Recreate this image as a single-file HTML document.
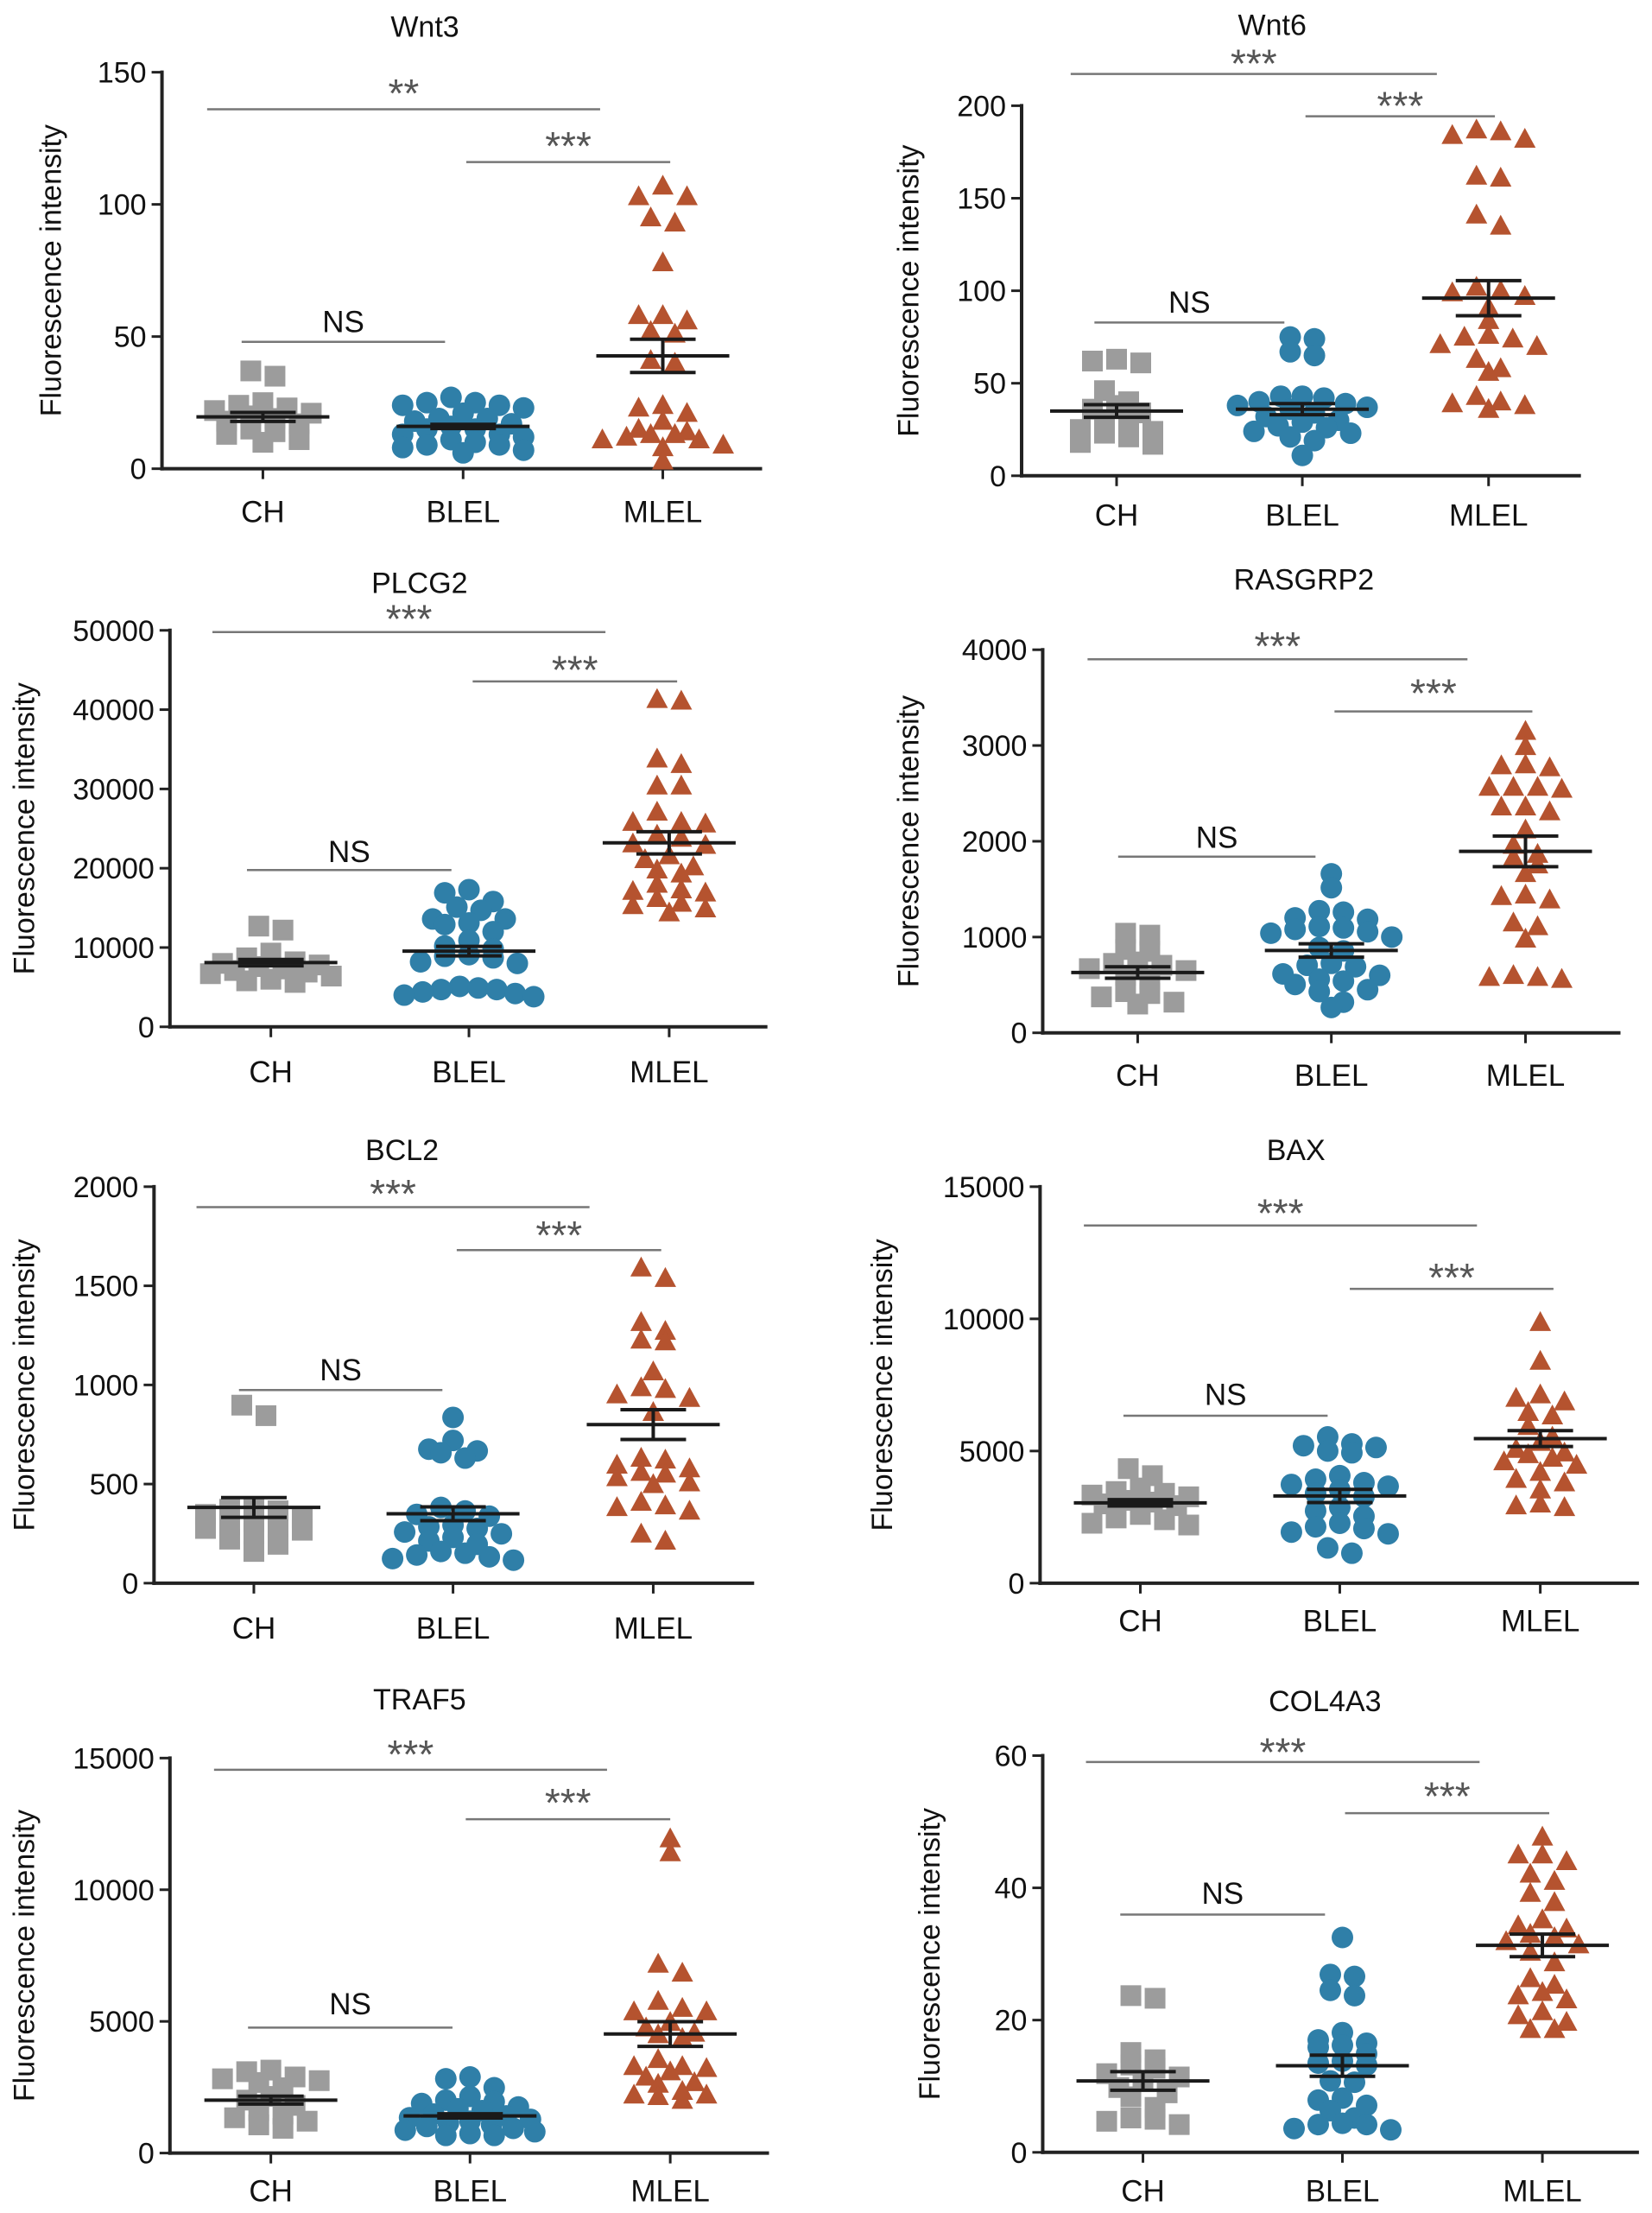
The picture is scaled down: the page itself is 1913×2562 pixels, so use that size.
<!DOCTYPE html>
<html><head><meta charset="utf-8">
<style>
html,body{margin:0;padding:0;background:#fff;}
svg{display:block;font-family:"Liberation Sans",Arial,sans-serif;}
</style></head>
<body>
<svg id="fig" xmlns="http://www.w3.org/2000/svg" width="1913" height="2562" viewBox="0 0 1913 2562"></svg>
<script>
// ---------- DATA ----------
const groups = ["CH","BLEL","MLEL"];
const titles = ["Wnt3","Wnt6","PLCG2","RASGRP2","BCL2","BAX","TRAF5","COL4A3"];
const sigTop = ["**","***","***","***","***","***","***","***"];
const sigRight = ["***","***","***","***","***","***","***","***"];
const sigLeft = ["NS","NS","NS","NS","NS","NS","NS","NS"];
const yMax = [150,200,50000,4000,2000,15000,15000,60];
const yStep = [50,50,10000,1000,500,5000,5000,20];

const wnt3CH = [37,35,25,24,23,22,21,20,19,18,17,15,14,13,11,10];
const wnt3BLEL = [27,25,25,24,24,23,21,19,19,18,17,16,15,15,13,13,12,11,10,9,9,8,7,6];
const wnt3MLEL = [107,103,103,95,93,78,58,58,56,52,51,41,40,24,23,21,18,15,14,13,13,12,11,11,9,8,3];
const wnt3Mean = [19.6,16,42.7];
const wnt3Sem = [1.7,0.8,6.3];

const wnt6CH = [63,62,61,46,40,38,36,34,30,29,25,24,23,21,18,17];
const wnt6BLEL = [75,74,67,65,43,43,42,40,39,38,37,36,34,32,30,29,27,26,24,23,21,19,11];
const wnt6MLEL = [187,186,184,182,162,161,141,135,102,100,99,97,91,84,76,75,74,71,70,63,58,56,43,40,39,38,36];
const wnt6Mean = [35,36,96];
const wnt6Sem = [3.4,3,9.5];

const plcg2CH = [12700,12200,9300,8700,8200,8000,7800,7600,7300,7100,6900,6700,6400,6000,5800,5600];
const plcg2BLEL = [17300,16900,15800,15100,14700,13600,13600,13100,12900,12000,10900,10200,9800,9100,8900,8700,8200,8000,5100,4900,4700,4700,4400,4200,4000,3800];
const plcg2MLEL = [41300,41100,33800,33100,30400,30400,27100,25800,25800,25600,24200,23800,23100,22900,21600,21100,20200,19800,19300,18000,17300,17100,16900,16200,15600,15300,14900,14400];
const plcg2Mean = [8100,9550,23200];
const plcg2Sem = [400,600,1400];

const rasCH = [1040,1020,870,850,740,725,705,670,650,600,560,430,410,375,320,300];
const rasBLEL = [1660,1515,1275,1260,1200,1185,1110,1095,1080,1055,1040,1000,890,855,725,705,690,615,600,560,540,505,450,430,320,265];
const rasMLEL = [3150,2990,2800,2790,2770,2565,2565,2565,2545,2360,2360,2310,2120,1960,1865,1830,1755,1665,1440,1425,1390,1150,1110,980,600,580,580,560];
const rasMean = [630,860,1895];
const rasSem = [60,70,160];

const bcl2CH = [898,845,382,373,365,347,329,311,293,284,276,267,249,222,196,160];
const bcl2BLEL = [836,720,676,667,658,631,382,364,347,338,293,284,276,258,249,231,213,196,160,151,142,133,124,116];
const bcl2MLEL = [1591,1538,1316,1271,1227,1218,1067,987,978,951,933,862,631,622,596,578,560,551,533,507,498,409,391,382,364,249,213];
const bcl2Mean = [382,350,800];
const bcl2Sem = [50,35,75];

const baxCH = [4333,4067,3600,3467,3400,3333,3267,3133,3067,3000,2933,2600,2467,2400,2267,2200];
const baxBLEL = [5533,5267,5200,5133,5000,4933,4067,3933,3800,3733,3667,3533,3400,3267,2867,2733,2533,2267,2133,2067,1933,1867,1333,1133];
const baxMLEL = [9867,8400,7133,7000,6867,6467,6333,5933,5533,5333,5067,4933,4867,4733,4600,4467,4200,3933,3800,3533,3000,2933,2867];
const baxMean = [3040,3300,5470];
const baxSem = [120,250,300];

const trafCH = [3150,3090,2890,2820,2750,2680,2480,2150,2010,1810,1610,1480,1340,1210,1070,940];
const trafBLEL = [2890,2820,2480,2150,2010,1950,1880,1750,1680,1610,1480,1410,1340,1280,1210,1140,1070,1010,940,870,810,740,670,670];
const trafMLEL = [11940,11410,7180,6840,5770,5500,5370,5370,4970,4760,4560,4500,4360,3560,3290,3290,3220,3090,2890,2680,2620,2350,2210,2210,2150,2010];
const trafMean = [2010,1410,4520];
const trafSem = [150,80,470];

const colCH = [23.7,23.3,15.1,14,13.2,12.7,11.9,11.4,10.8,9.8,9,8.4,6.8,5.2,5,4.7,4.2];
const colBLEL = [32.5,26.9,26.6,24.5,23.7,18.1,17,16.5,16.2,15.9,14.9,13.8,13.5,13.2,10.8,10.6,8.2,7.9,7.1,6.3,5.2,4.4,4.2,4.2,3.6,3.4];
const colMLEL = [47.7,45,45,44,42.1,41,39.2,37.8,35.2,34.3,33.8,33,32.5,31.9,31.4,30.3,28.7,26.3,25.3,24.2,23.7,23.1,21.3,20.7,19.7,18.6,18.6];
const colMean = [10.8,13.1,31.3];
const colSem = [1.4,1.6,1.7];

const allData = [
  [wnt3CH,wnt3BLEL,wnt3MLEL],[wnt6CH,wnt6BLEL,wnt6MLEL],
  [plcg2CH,plcg2BLEL,plcg2MLEL],[rasCH,rasBLEL,rasMLEL],
  [bcl2CH,bcl2BLEL,bcl2MLEL],[baxCH,baxBLEL,baxMLEL],
  [trafCH,trafBLEL,trafMLEL],[colCH,colBLEL,colMLEL]];
const allMeans = [wnt3Mean,wnt6Mean,plcg2Mean,rasMean,bcl2Mean,baxMean,trafMean,colMean];
const allSems = [wnt3Sem,wnt6Sem,plcg2Sem,rasSem,bcl2Sem,baxSem,trafSem,colSem];

// ---------- LAYOUT (panel geometry) ----------
const layout = [
 {cx:0,cy:0,hx:.615,hy:.408,ax:305,top:205,y0:1330,cats:[495,872,1248],xe:1435,tx:800,ty:75,l1:[310,390,1130,255],l2:[460,878,1262,405],ns:[970,455,838,910],cl:1450,yt:95},
 {cx:960,cy:0,hx:.611,hy:.408,ax:365,top:300,y0:1350,cats:[545,897,1250],xe:1425,tx:840,ty:70,l1:[210,458,1152,170],l2:[330,903,1262,290],ns:[915,503,863,855],cl:1460,yt:150},
 {cx:0,cy:640,hx:.615,hy:.408,ax:320,top:220,y0:1345,cats:[510,883,1260],xe:1445,tx:790,ty:85,l1:[225,400,1140,178],l2:[365,890,1275,322],ns:[900,465,850,845],cl:1470,yt:45},
 {cx:960,cy:640,hx:.611,hy:.408,ax:405,top:275,y0:1362,cats:[585,952,1320],xe:1500,tx:900,ty:75,l1:[302,490,1210,255],l2:[450,958,1333,388],ns:[862,548,922,805],cl:1480,yt:150},
 {cx:0,cy:1280,hx:.615,hy:.408,ax:290,top:230,y0:1355,cats:[478,853,1230],xe:1420,tx:757,ty:125,l1:[288,370,1110,240],l2:[410,860,1245,358],ns:[807,450,833,748],cl:1480,yt:45},
 {cx:960,cy:1280,hx:.611,hy:.408,ax:400,top:230,y0:1355,cats:[590,968,1348],xe:1535,tx:885,ty:125,l1:[340,483,1228,295],l2:[520,987,1373,478],ns:[880,558,945,818],cl:1460,yt:100},
 {cx:0,cy:1920,hx:.615,hy:.409,ax:320,top:282,y0:1400,cats:[510,885,1262],xe:1448,tx:790,ty:115,l1:[315,403,1143,262],l2:[455,877,1262,398],ns:[1045,467,852,975],cl:1505,yt:45},
 {cx:960,cy:1920,hx:.611,hy:.409,ax:405,top:275,y0:1398,cats:[595,973,1352],xe:1535,tx:940,ty:120,l1:[293,487,1233,255],l2:[438,978,1365,380],ns:[725,552,940,662],cl:1505,yt:190}
];
const colors = ["#9c9c9c","#2f7fa8","#b5532f"];
const NS = "http://www.w3.org/2000/svg";
const svg = document.getElementById("fig");
function mk(tag, attrs, parent){const e=document.createElementNS(NS,tag);for(const k in attrs)e.setAttribute(k,attrs[k]);(parent||svg).appendChild(e);return e;}

function rowSpread(ys, rowH, maxHalf, sp){
  const order = ys.map((y,i)=>i).sort((a,b)=>ys[a]-ys[b]);
  const xs=new Array(ys.length);
  let row=[];
  const flush=()=>{
    const n=row.length; if(!n) return;
    const s = n>1 ? Math.min(sp, 2*maxHalf/(n-1)) : 0;
    const offs=[]; for(let k=0;k<n;k++) offs.push((k-(n-1)/2)*s);
    const pos=offs.slice().sort((a,b)=>Math.abs(a)-Math.abs(b));
    row.forEach((idx,k)=>{xs[idx]=pos[k];});
    row=[];
  };
  let start=null;
  for(const i of order){
    if(start===null || ys[i]-start>rowH){flush(); start=ys[i];}
    row.push(i);
  }
  flush();
  return xs;
}

layout.forEach((L,pi)=>{
  const g = mk("g",{});
  
  
  const px=z=>L.cx+z*L.hx, py=z=>L.cy+z*L.hy;
  const yb=py(L.y0), yt=py(L.top);
  const yS=v=>yb+(yt-yb)*v/yMax[pi];
  const ax=px(L.ax);
  const t=mk("text",{x:px(L.tx),y:py(L.ty)+12,"text-anchor":"middle","font-size":34,fill:"#111"},g);
  t.textContent=titles[pi];
  
  
  const yaxis=mk("line",{x1:ax,y1:yt-2,x2:ax,y2:yb+2,stroke:"#222","stroke-width":4},g);
  
  
  for(let v=0; v<=yMax[pi]+1e-9; v+=yStep[pi]){
    const y=yS(v);
    const tk=mk("line",{x1:ax-12,y1:y,x2:ax,y2:y,stroke:"#222","stroke-width":3},g);
    
    
    const lb=mk("text",{x:ax-18,y:y+12,"text-anchor":"end","font-size":34,fill:"#111"},g);
    lb.textContent=String(v);
    
    
  }
  const ytl=mk("text",{x:0,y:0,"text-anchor":"middle","font-size":34,fill:"#111",transform:`translate(${px(L.yt)+12},${(yt+yb)/2}) rotate(-90)`},g);
  ytl.textContent="Fluorescence intensity";
  
  
  const xaxis=mk("line",{x1:ax-2,y1:yb,x2:px(L.xe),y2:yb,stroke:"#222","stroke-width":4},g);
  
  
  L.cats.forEach((c,ci)=>{
    const x=px(c);
    const tk=mk("line",{x1:x,y1:yb,x2:x,y2:yb+12,stroke:"#222","stroke-width":3},g);
    
    
    const lb=mk("text",{x:x,y:py(L.cl)+13,"text-anchor":"middle","font-size":35,fill:"#111"},g);
    lb.textContent=groups[ci];
    
    
  });
  [[L.l1,sigTop[pi],'sig-ch-mlel'],[L.l2,sigRight[pi],'sig-blel-mlel'],[L.ns,sigLeft[pi],'sig-ch-blel']].forEach(([s,txt,nm])=>{
    const ln=mk("line",{x1:px(s[1]),y1:py(s[0]),x2:px(s[2]),y2:py(s[0]),stroke:"#777","stroke-width":2.5},g);
    
    
    const isNS = txt==="NS";
    const st=mk("text",{x:(px(s[1])+px(s[2]))/2,y:py(s[3])+(isNS?13:20),"text-anchor":"middle","font-size":isNS?35:46,fill:isNS?"#111":"#555"},g);
    st.textContent=txt;
    
    
  });
  allData[pi].forEach((vals,ci)=>{
    const cxp=px(L.cats[ci]);
    const ys=vals.map(v=>yS(v));
    const xs=rowSpread(ys,14,75,28);
    vals.forEach((v,k)=>{
      const x=cxp+xs[k], y=ys[k];
      let m;
      if(ci===0){ m=mk("rect",{x:x-12,y:y-12,width:24,height:24,fill:colors[0]},g); }
      else if(ci===1){ m=mk("circle",{cx:x,cy:y,r:12.5,fill:colors[1]},g); }
      else { m=mk("polygon",{points:`${x},${y-13} ${x+12.5},${y+10} ${x-12.5},${y+10}`,fill:colors[2]},g); }
      
      
    });
    const mY=yS(allMeans[pi][ci]), sh=yS(allMeans[pi][ci]+allSems[pi][ci]), sl=yS(allMeans[pi][ci]-allSems[pi][ci]);
    const ml=mk("line",{x1:cxp-77,y1:mY,x2:cxp+77,y2:mY,stroke:"#1a1a1a","stroke-width":4},g);
    
    
    const ev=mk("line",{x1:cxp,y1:sh,x2:cxp,y2:sl,stroke:"#1a1a1a","stroke-width":4},g);
    
    
    [sh,sl].forEach(yy=>{
      const c=mk("line",{x1:cxp-38,y1:yy,x2:cxp+38,y2:yy,stroke:"#1a1a1a","stroke-width":4},g);
      
      
    });
  });
});
</script>
</body></html>
